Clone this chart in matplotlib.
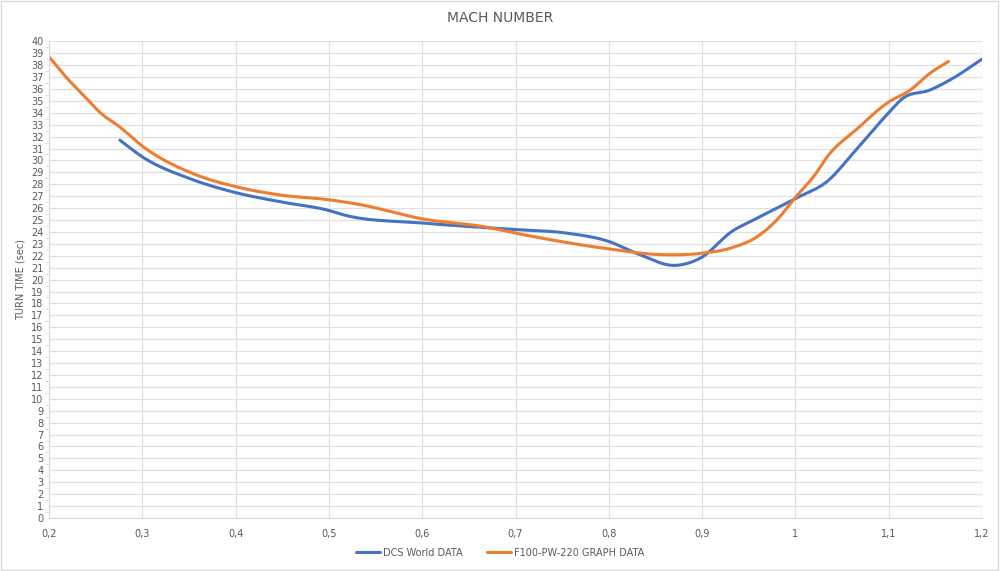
import numpy as np
import matplotlib.pyplot as plt
from matplotlib.ticker import MultipleLocator, FuncFormatter

# values
dcs_mach = [0.276, 0.30, 0.35, 0.40, 0.45, 0.50, 0.515, 0.60, 0.67, 0.70, 0.755, 0.80,
            0.83, 0.873, 0.898, 0.933, 0.955, 1.00, 1.035, 1.064, 1.10, 1.115, 1.144, 1.169, 1.20]
dcs_time = [31.7, 30.3, 28.5, 27.3, 26.5, 25.8, 25.45, 24.75, 24.35, 24.2, 23.9, 23.2,
            22.2, 21.2, 21.8, 24.1, 25.0, 26.8, 28.3, 30.8, 34.0, 35.2, 35.9, 36.9, 38.5]

f100_mach = [0.20, 0.217, 0.239, 0.255, 0.276, 0.30, 0.351, 0.40, 0.448, 0.50, 0.533, 0.60,
             0.669, 0.70, 0.798, 0.855, 0.898, 0.933, 0.959, 0.98, 1.00, 1.021, 1.035, 1.064,
             1.10, 1.123, 1.144, 1.164]
f100_time = [38.7, 37.1, 35.3, 34.0, 32.8, 31.2, 29.0, 27.8, 27.1, 26.7, 26.3, 25.1,
             24.4, 23.9, 22.6, 22.1, 22.2, 22.7, 23.6, 25.0, 26.9, 28.8, 30.4, 32.5,
             34.9, 35.9, 37.3, 38.3]

labels = ['DCS World DATA', 'F100-PW-220 GRAPH DATA']
colors = ['#4472C4', '#ED7D31']


def smooth(x, y, n=25):
    # cubic Hermite through the points, slopes from neighbours (smoothed line look)
    x = np.asarray(x, float)
    y = np.asarray(y, float)
    m = np.gradient(y, x)
    xs, ys = [], []
    t = np.linspace(0, 1, n, endpoint=False)
    for i in range(len(x) - 1):
        h = x[i + 1] - x[i]
        h00 = 2 * t ** 3 - 3 * t ** 2 + 1
        h10 = t ** 3 - 2 * t ** 2 + t
        h01 = -2 * t ** 3 + 3 * t ** 2
        h11 = t ** 3 - t ** 2
        xs.extend(x[i] + t * h)
        ys.extend(h00 * y[i] + h10 * h * m[i] + h01 * y[i + 1] + h11 * h * m[i + 1])
    xs.append(x[-1])
    ys.append(y[-1])
    return xs, ys


fig = plt.figure(figsize=(10, 5.71), dpi=100)
fig.patches.append(plt.Rectangle((0.001, 0.001), 0.997, 0.997, transform=fig.transFigure,
                                 fill=False, edgecolor='#d9d9d9', lw=1))
ax = fig.add_axes([0.049, 0.0928, 0.933, 0.835])

for mx, tt, lab, col in zip([dcs_mach, f100_mach], [dcs_time, f100_time], labels, colors):
    sx, sy = smooth(mx, tt)
    ax.plot(sx, sy, color=col, lw=2.2, label=lab, solid_capstyle='round')

ax.set_xlim(0.2, 1.2)
ax.set_ylim(0, 40)
ax.xaxis.set_major_locator(MultipleLocator(0.1))
ax.yaxis.set_major_locator(MultipleLocator(1))
ax.yaxis.set_minor_locator(MultipleLocator(0.5))
ax.xaxis.set_major_formatter(FuncFormatter(lambda v, p: ('%g' % round(v, 2)).replace('.', ',')))
ax.grid(True, which='major', color='#e0e0e0', lw=0.9)
ax.set_axisbelow(True)
for s in ['top', 'right']:
    ax.spines[s].set_visible(False)
for s in ['left', 'bottom']:
    ax.spines[s].set_color('#d9d9d9')
ax.tick_params(axis='both', which='major', labelsize=7, labelcolor='#595959', length=0, pad=8)
ax.tick_params(axis='y', which='major', pad=4)
ax.tick_params(axis='y', which='minor', length=3, color='#d9d9d9')
ax.set_ylabel('TURN TIME (sec)', fontsize=7, color='#595959', labelpad=4)
fig.text(0.5, 0.968, 'MACH NUMBER', ha='center', va='center', fontsize=10, color='#595959')

leg = fig.legend(loc='center', bbox_to_anchor=(0.5, 0.032), ncol=2, frameon=False,
                 fontsize=7, handlelength=2.5, columnspacing=2.5, handletextpad=0.3)
for t in leg.get_texts():
    t.set_color('#595959')

fig.savefig('out.png', dpi=100)
